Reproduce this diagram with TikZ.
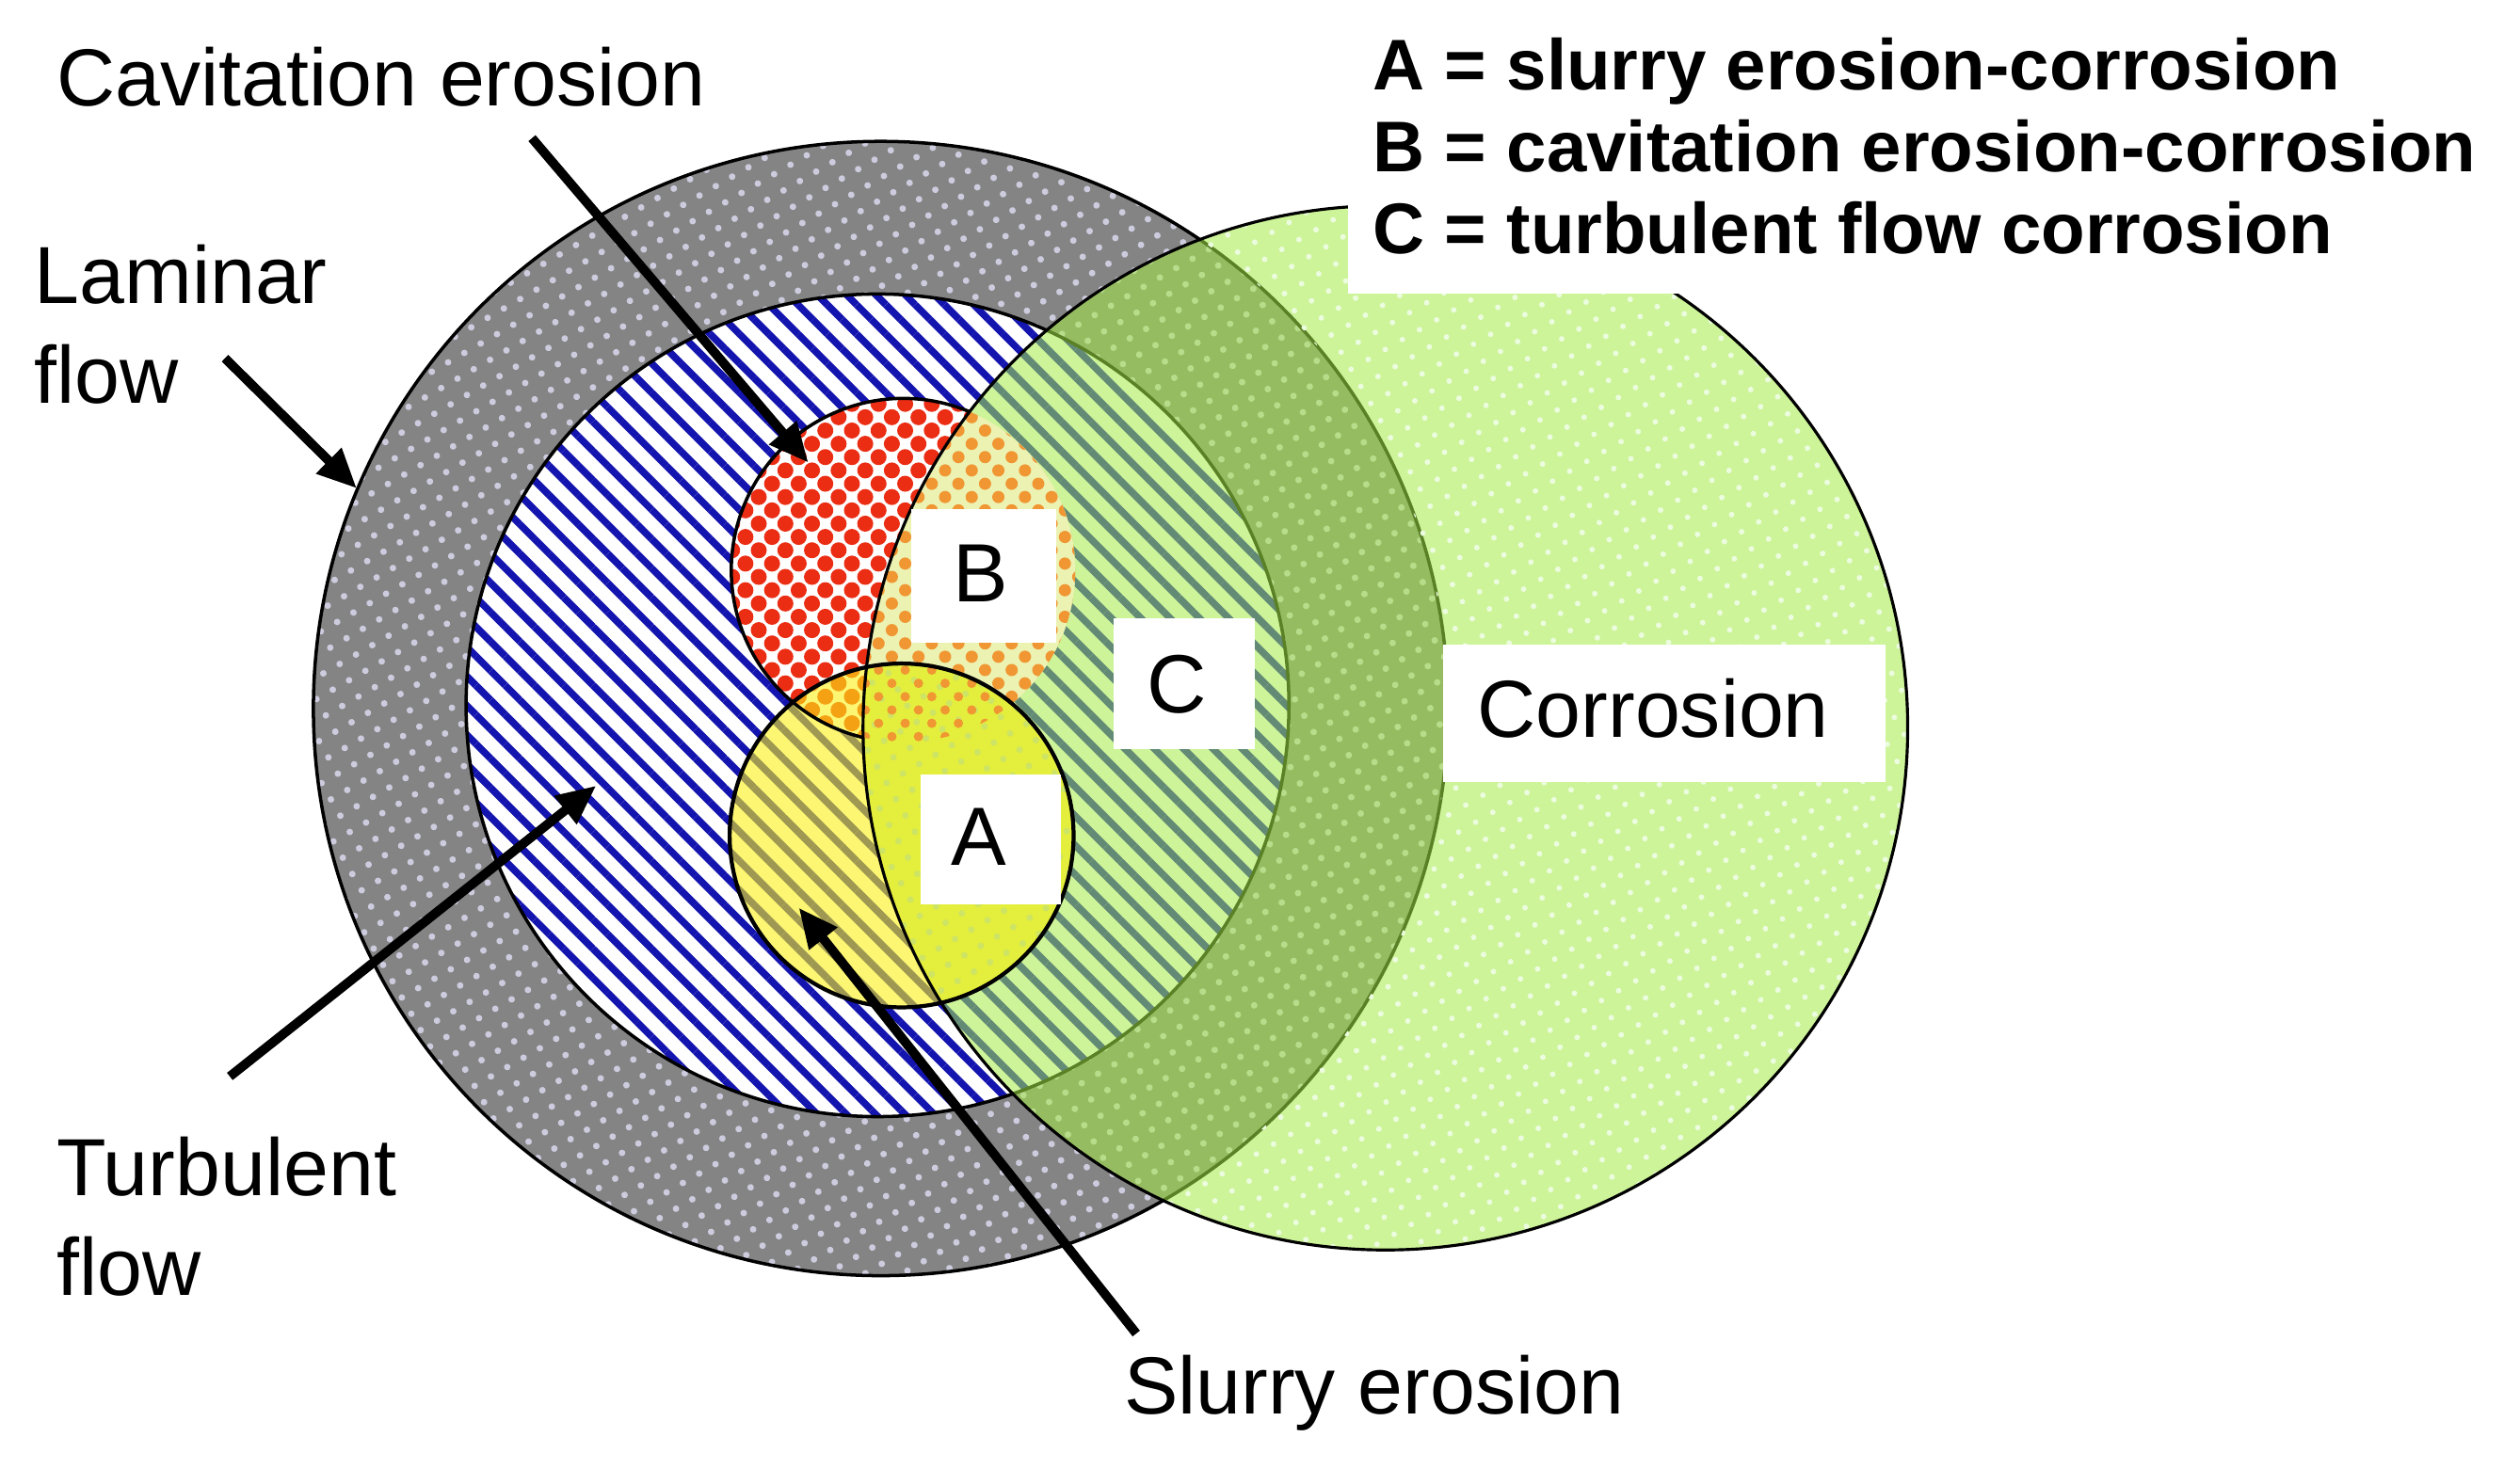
\documentclass[tikz,border=0pt]{standalone}
\usepackage{fontspec}
\setmainfont{Liberation Sans}
\usetikzlibrary{patterns.meta,arrows.meta}
\definecolor{grayfill}{RGB}{132,132,132}
\definecolor{graydot}{RGB}{205,204,222}
\definecolor{hatchblue}{RGB}{20,20,175}
\definecolor{dotred}{RGB}{235,45,20}
\definecolor{yel}{RGB}{250,240,20}
\definecolor{lime}{RGB}{165,235,70}
\definecolor{palegreen}{RGB}{236,252,222}
\definecolor{bback}{RGB}{236,242,178}
\definecolor{bdot}{RGB}{240,150,50}
\definecolor{aback}{RGB}{228,238,60}
\definecolor{adot}{RGB}{205,228,100}
\begin{document}
\begin{tikzpicture}[x=0.017073cm,y=0.017073cm,
  lab/.style={font=\fontsize{24.5}{30}\selectfont, inner sep=0pt, anchor=base west},
  leg/.style={font=\fontsize{21.7}{26}\selectfont\bfseries, inner sep=0pt, anchor=base west},
  letter/.style={font=\fontsize{25}{30}\selectfont, inner sep=0pt},
  pointer/.style={line width=2.8pt, -{Triangle[length=0.42cm,width=0.36cm]}},
  rim/.style={line width=1pt}]
\useasboundingbox (0,0) rectangle (1568,914);
\fill[white] (0,0) rectangle (1568,914);
% centres
\coordinate (Cg) at (548,473);
\coordinate (Cb) at (546,475);
\coordinate (Cr) at (562,559);
\coordinate (Cy) at (561,394);
\coordinate (Cc) at (862,461);
% laminar (gray) circle
\fill[grayfill] (Cg) circle[radius=353];
\fill[pattern={Dots[radius=0.035cm,distance=0.2cm,angle=30]},pattern color=graydot] (Cg) circle[radius=353];
% turbulent (blue hatch) circle
\fill[white] (Cb) circle[radius=256];
\fill[pattern={Lines[angle=-45,distance=0.22cm,line width=0.075cm]},pattern color=hatchblue] (Cb) circle[radius=256];
% cavitation (red dots)
\fill[white] (Cr) circle[radius=107];
\fill[pattern={Dots[radius=0.085cm,distance=0.2cm,angle=45]},pattern color=dotred] (Cr) circle[radius=107];
% slurry (yellow)
\fill[yel,fill opacity=0.6] (Cy) circle[radius=107];
% outlines
\draw[rim] (Cg) circle[radius=353];
\draw[rim] (Cb) circle[radius=256];
\draw[rim] (Cr) ++(67.3:107) arc[start angle=67.3,end angle=256.5,radius=107];
% corrosion circle
\fill[lime,fill opacity=0.55] (Cc) circle[radius=325];
\begin{scope}
\clip (Cc) circle[radius=325];
\fill[even odd rule,pattern={Dots[radius=0.03cm,distance=0.21cm,angle=30]},pattern color=palegreen] (Cc) circle[radius=325] (Cg) circle[radius=353];
\fill[bback] (Cr) circle[radius=107];
\fill[pattern={Dots[radius=0.065cm,distance=0.2cm,angle=45]},pattern color=bdot] (Cr) circle[radius=107];
\fill[aback] (Cy) circle[radius=107];
\fill[pattern={Dots[radius=0.035cm,distance=0.2cm,angle=30]},pattern color=adot] (Cy) circle[radius=107];
\clip (Cr) circle[radius=107];
\fill[pattern={Dots[radius=0.05cm,distance=0.2cm,angle=45]},pattern color=bdot] (Cy) circle[radius=107];
\end{scope}
\draw[line width=0.9pt] (Cc) circle[radius=325];
\draw[line width=1.2pt] (Cy) circle[radius=107];
% white areas
\fill[white] (839,731) rectangle (1568,914);
\fill[white] (898,427) rectangle (1173,513);
\fill[white] (567,514) rectangle (657,597);
\fill[white] (693,448) rectangle (781,529);
\fill[white] (573,351) rectangle (660,432);
% letters
\node[letter] (lB) at (610,557) {B};
\node[letter] (lC) at (732,488) {C};
\node[letter] (lA) at (609,393) {A};
\node[lab] (corr) at (919,455) {Corrosion};
% labels
\node[lab] (cav) at (35,848) {Cavitation erosion};
\node[lab] (lam1) at (21,725) {Laminar};
\node[lab] (lam2) at (21,663) {flow};
\node[lab] (tur1) at (35,170) {Turbulent};
\node[lab] (tur2) at (35,108) {flow};
\node[lab] (slu) at (699,34) {Slurry erosion};
% legend
\node[leg] (legA) at (854,858) {A = slurry erosion-corrosion};
\node[leg] (legB) at (854,807) {B = cavitation erosion-corrosion};
\node[leg] (legC) at (854,756) {C = turbulent flow corrosion};
% pointers
\coordinate (cavS) at (331,828); \coordinate (cavT) at (503,626);
\coordinate (lamS) at (140,691); \coordinate (lamT) at (222,610);
\coordinate (turS) at (143,244); \coordinate (turT) at (371,425);
\coordinate (sluS) at (707,84);  \coordinate (sluT) at (497,349);
\draw[pointer] (cavS) -- (cavT);
\draw[pointer] (lamS) -- (lamT);
\draw[pointer] (turS) -- (turT);
\draw[pointer] (sluS) -- (sluT);
\end{tikzpicture}
\end{document}
